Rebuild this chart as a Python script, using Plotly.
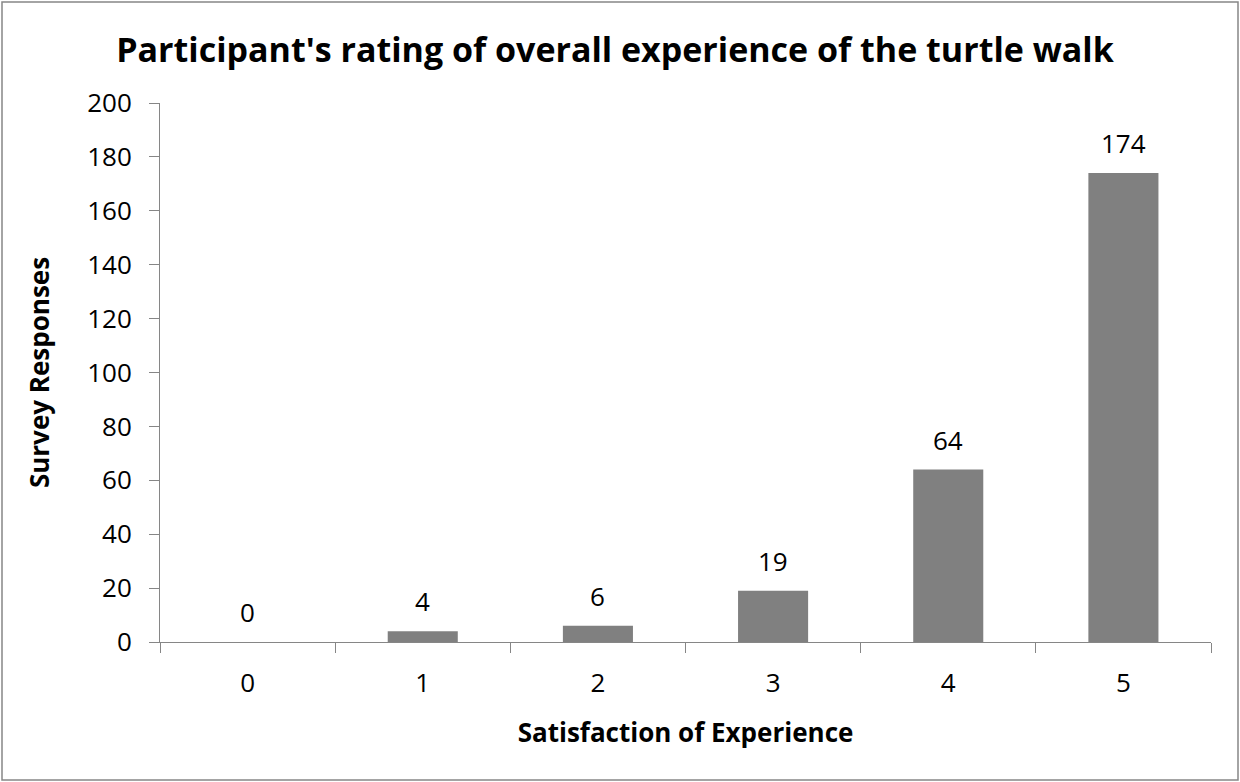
import plotly.graph_objects as go

ratings = ["0", "1", "2", "3", "4", "5"]
responses = [0, 4, 6, 19, 64, 174]

W, H = 1240, 782
L, R, T, B = 160, 29, 103, 140
pw, ph = W - L - R, H - T - B

font = "Open Sans"

fig = go.Figure()
fig.add_trace(go.Bar(
    x=ratings, y=responses,
    marker=dict(color="#808080", line=dict(width=0)),
))

# data labels above the bars
for r, v in zip(ratings, responses):
    fig.add_annotation(x=r, y=v, text=str(v), showarrow=False,
                       yanchor="middle", yshift=30,
                       font=dict(family=font, size=26, color="black"))

fig.update_layout(
    width=W, height=H,
    margin=dict(l=L, r=R, t=T, b=B),
    paper_bgcolor="white", plot_bgcolor="white",
    bargap=0.6,
    showlegend=False,
    font=dict(family=font, color="black"),
    title=dict(text="<b>Participant's rating of overall experience of the turtle walk</b>",
               x=(615 - L) / pw, xref="paper", xanchor="center", y=1 - 50 / H, yanchor="middle",
               font=dict(family=font, size=34, color="black")),
)

fig.update_xaxes(
    type="category", tickson="boundaries",
    ticks="outside", ticklen=10, tickcolor="#868686", tickwidth=1,
    showline=True, linecolor="#868686", linewidth=1,
    showgrid=False, tickfont=dict(family=font, size=26),
    ticklabelstandoff=18,
    title=dict(text="<b>Satisfaction of Experience</b>", font=dict(family=font, size=26), standoff=24),
)
fig.update_yaxes(
    range=[0, 200], dtick=20, tick0=0,
    ticks="outside", ticklen=10, tickcolor="#868686", tickwidth=1,
    showline=True, linecolor="#868686", linewidth=1,
    showgrid=False, zeroline=False, tickfont=dict(family=font, size=26),
    ticklabelstandoff=12,
    title=dict(text="<b>Survey Responses</b>", font=dict(family=font, size=26), standoff=30),
)

# outer chart border
fig.add_shape(type="rect", xref="paper", yref="paper",
              x0=(2 - L) / pw, x1=(W - 2 - L) / pw,
              y0=-(H - 2 - T - ph) / ph, y1=1 + (T - 2) / ph,
              line=dict(color="#868686", width=1.5), layer="below")

fig.write_html("out.html", config={"displayModeBar": False},
               post_script="document.body.style.margin='0';")
